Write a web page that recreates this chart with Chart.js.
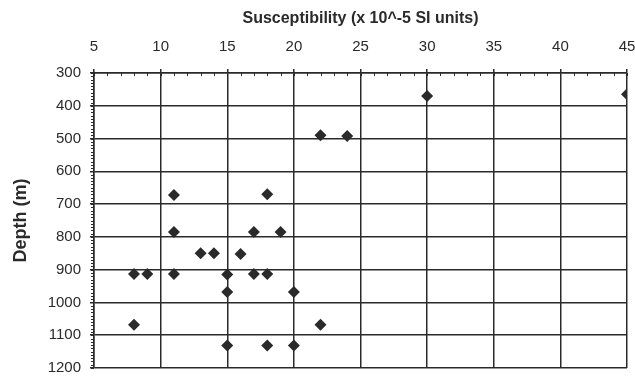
<!DOCTYPE html>
<html>
<head>
<meta charset="utf-8">
<script src="https://cdn.jsdelivr.net/npm/chart.js@4"></script>
<style>
html,body{margin:0;padding:0;background:#fff;}
#wrap{width:635px;height:380px;}
</style>
</head>
<body>
<div id="wrap"><canvas id="c" width="635" height="380"></canvas></div>
<script>
// Data
const susceptibility = [30, 45, 22, 24, 11, 18, 11, 17, 19, 13, 14, 16, 8, 9, 11, 15, 17, 18, 15, 20, 8, 22, 15, 18, 20];
const depth = [370, 365, 490, 492, 672, 670, 785, 785, 785, 850, 850, 852, 913, 913, 913, 915, 913, 913, 968, 968, 1068, 1068, 1131, 1131, 1131];
const xTicks = [5, 10, 15, 20, 25, 30, 35, 40, 45];
const yTicks = [300, 400, 500, 600, 700, 800, 900, 1000, 1100, 1200];
const xTitle = 'Susceptibility (x 10^-5 SI units)';
const yTitle = 'Depth (m)';

const points = susceptibility.map((v, i) => ({x: v, y: depth[i]}));
const ink = '#2a2a2a';
const FONT = '"Liberation Sans", Arial, sans-serif';

const minorTicks = {
  id: 'minorTicks',
  afterDraw(chart) {
    const ctx = chart.ctx, xs = chart.scales.x, ys = chart.scales.y;
    ctx.save();
    ctx.strokeStyle = ink;
    ctx.lineWidth = 1;
    ctx.beginPath();
    for (let v = xTicks[0]; v <= xTicks[xTicks.length - 1]; v += 1) {
      const px = Math.round(xs.getPixelForValue(v)) + 0.5;
      ctx.moveTo(px, ys.top);
      ctx.lineTo(px, ys.top + 3);
    }
    for (let v = yTicks[0]; v <= yTicks[yTicks.length - 1]; v += 10) {
      const py = Math.round(ys.getPixelForValue(v)) + 0.5;
      ctx.moveTo(xs.left - 3, py);
      ctx.lineTo(xs.left, py);
    }
    ctx.stroke();
    ctx.restore();
  }
};

new Chart(document.getElementById('c'), {
  type: 'scatter',
  data: {
    datasets: [{
      data: points,
      pointStyle: 'rectRot',
      pointRadius: 6,
      pointHoverRadius: 6,
      backgroundColor: ink,
      borderColor: ink,
      borderWidth: 0
    }]
  },
  options: {
    responsive: false,
    animation: false,
    layout: {padding: {left: 0, right: 0, top: 0, bottom: 12}},
    plugins: {legend: {display: false}, tooltip: {enabled: false}},
    scales: {
      x: {
        type: 'linear',
        position: 'top',
        min: xTicks[0],
        max: xTicks[xTicks.length - 1],
        afterBuildTicks(s) { s.ticks = xTicks.map(v => ({value: v})); },
        afterFit(s) { s.height = 73; s.paddingRight = 8; },
        ticks: {color: ink, font: {family: FONT, size: 15}, padding: 13, maxRotation: 0, callback: v => String(v)},
        grid: {color: ink, lineWidth: 1.5, tickLength: 4},
        border: {color: ink, width: 1.5},
        title: {display: true, text: xTitle, color: ink, font: {family: FONT, size: 16, weight: 'bold'}, padding: {top: 9, bottom: 0}}
      },
      y: {
        type: 'linear',
        reverse: true,
        min: yTicks[0],
        max: yTicks[yTicks.length - 1],
        afterBuildTicks(s) { s.ticks = yTicks.map(v => ({value: v})); },
        afterFit(s) { s.width = 94; s.paddingBottom = 0; s.paddingTop = 0; },
        ticks: {color: ink, font: {family: FONT, size: 15}, padding: 9, callback: v => String(v)},
        grid: {color: ink, lineWidth: 1.5, tickLength: 4},
        border: {color: ink, width: 1.5},
        title: {display: true, text: yTitle, color: ink, font: {family: FONT, size: 18, weight: 'bold'}, padding: {top: 10, bottom: 0}}
      }
    }
  },
  plugins: [minorTicks]
});
</script>
</body>
</html>
